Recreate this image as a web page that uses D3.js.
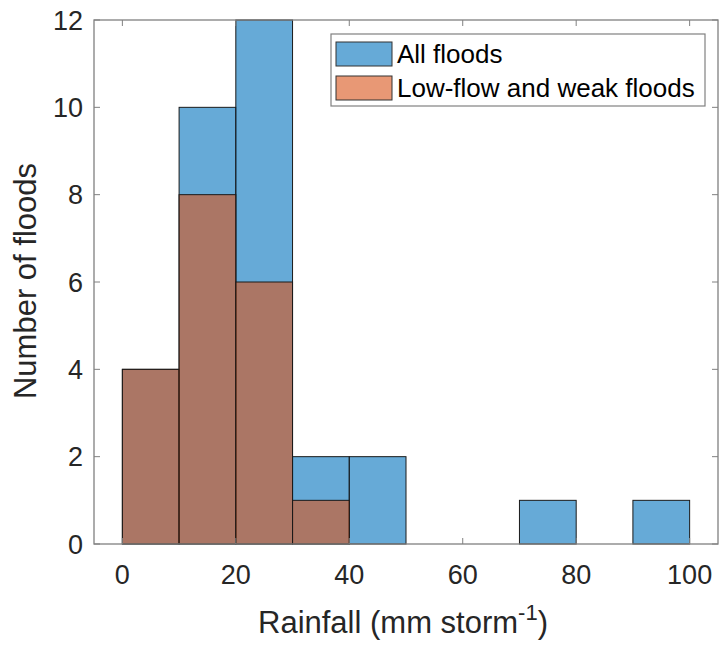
<!DOCTYPE html>
<html><head><meta charset="utf-8">
<script src="https://cdn.jsdelivr.net/npm/d3@7"></script>
<style>body{margin:0;background:#fff}text{font-family:"Liberation Sans",Arial,sans-serif}</style>
</head><body><svg id="c" width="720" height="645"></svg>
<script>
const binEdges = [0,10,20,30,40,50,60,70,80,90,100];
const allFloods = [4,10,12,2,2,0,0,1,0,1];
const lowFlowFloods = [4,8,6,1,0,0,0,0,0,0];
const xTicks = [0,20,40,60,80,100];
const yTicks = [0,2,4,6,8,10,12];
const seriesNames = ["All floods","Low-flow and weak floods"];
const seriesColors = ["#0072bd","#d95319"];

const svg = d3.select("#c");
const L=94, R=718, T=20, B=544;
const x = d3.scaleLinear().domain([-5,105]).range([L,R]);
const y = d3.scaleLinear().domain([0,12]).range([B,T]);
const axisCol = "#808080", txtCol = "#262626";

const series = [allFloods, lowFlowFloods];
series.forEach((vals,si)=>{
  svg.append("g").selectAll("rect").data(vals.map((v,i)=>({v,i})).filter(d=>d.v>0)).join("rect")
    .attr("x",d=>x(binEdges[d.i])).attr("width",d=>x(binEdges[d.i+1])-x(binEdges[d.i]))
    .attr("y",d=>y(d.v)).attr("height",d=>y(0)-y(d.v))
    .attr("fill",seriesColors[si]).attr("fill-opacity",0.6)
    .attr("stroke","#1a1a1a").attr("stroke-width",1);
});

// axes box
const g = svg.append("g");
g.append("rect").attr("x",L).attr("y",T).attr("width",R-L).attr("height",B-T)
  .attr("fill","none").attr("stroke",axisCol).attr("stroke-width",1.3);
const tl=6;
xTicks.forEach(t=>{
  g.append("line").attr("x1",x(t)).attr("x2",x(t)).attr("y1",B).attr("y2",B-tl).attr("stroke",axisCol);
  g.append("line").attr("x1",x(t)).attr("x2",x(t)).attr("y1",T).attr("y2",T+tl).attr("stroke",axisCol);
  g.append("text").attr("x",x(t)).attr("y",584).attr("text-anchor","middle")
    .attr("font-size",27).attr("fill",txtCol).text(t);
});
yTicks.forEach(t=>{
  g.append("line").attr("x1",L).attr("x2",L+tl).attr("y1",y(t)).attr("y2",y(t)).attr("stroke",axisCol);
  g.append("line").attr("x1",R).attr("x2",R-tl).attr("y1",y(t)).attr("y2",y(t)).attr("stroke",axisCol);
  g.append("text").attr("x",L-11).attr("y",y(t)).attr("dy","0.36em").attr("text-anchor","end")
    .attr("font-size",27).attr("fill",txtCol).text(t);
});

// axis labels
const xl = svg.append("text").attr("x",403).attr("y",633).attr("text-anchor","middle")
  .attr("font-size",31).attr("fill",txtCol);
xl.append("tspan").text("Rainfall (mm storm");
xl.append("tspan").attr("dy",-13).attr("font-size",22).text("-1");
xl.append("tspan").attr("dy",13).text(")");
svg.append("text").attr("transform",`translate(36,281) rotate(-90)`).attr("text-anchor","middle")
  .attr("font-size",31).attr("fill",txtCol).text("Number of floods");

// legend
const lg = svg.append("g");
lg.append("rect").attr("x",331).attr("y",34).attr("width",374).attr("height",72)
  .attr("fill","#fff").attr("stroke",axisCol).attr("stroke-width",1.2);
seriesNames.forEach((n,i)=>{
  const yy = 42 + i*34;
  lg.append("rect").attr("x",336).attr("y",yy).attr("width",56).attr("height",24)
    .attr("fill",seriesColors[i]).attr("fill-opacity",0.6).attr("stroke","#333").attr("stroke-width",1);
  lg.append("text").attr("x",397).attr("y",yy+12).attr("dy","0.36em").attr("font-size",26)
    .attr("fill","#000").text(n);
});
</script></body></html>
